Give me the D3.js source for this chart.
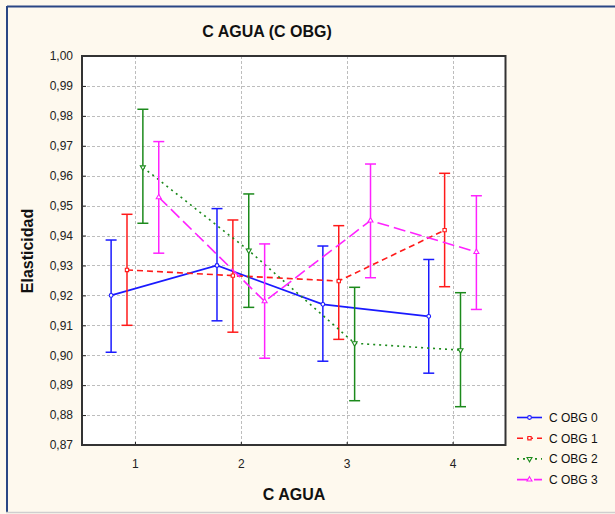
<!DOCTYPE html>
<html><head><meta charset="utf-8">
<script src="https://cdn.jsdelivr.net/npm/d3@7"></script>
<style>
html,body{margin:0;padding:0;background:#FEF9EE;}
svg{display:block;font-family:"Liberation Sans",Arial,sans-serif;}
</style></head>
<body><svg id="c" width="615" height="514"></svg>
<script>
const title = "C AGUA (C OBG)";
const xTitle = "C AGUA";
const yTitle = "Elasticidad";
const categories = [1, 2, 3, 4];
const seriesNames = ["C OBG 0", "C OBG 1", "C OBG 2", "C OBG 3"];
const yTicks = [0.87,0.88,0.89,0.90,0.91,0.92,0.93,0.94,0.95,0.96,0.97,0.98,0.99,1.00];

const mean0 = [0.920, 0.930, 0.917, 0.913];
const upper0 = [0.9385, 0.949, 0.9365, 0.932];
const lower0 = [0.901, 0.9115, 0.898, 0.894];

const mean1 = [0.9285, 0.9266, 0.9248, 0.9418];
const upper1 = [0.9471, 0.9452, 0.9433, 0.9608];
const lower1 = [0.910, 0.9077, 0.9053, 0.9229];

const mean2 = [0.9628, 0.935, 0.904, 0.9017];
const upper2 = [0.9822, 0.9539, 0.9227, 0.9209];
const lower2 = [0.9441, 0.916, 0.8848, 0.8828];

const mean3 = [0.9528, 0.918, 0.945, 0.9345];
const upper3 = [0.9714, 0.9372, 0.9639, 0.9533];
const lower3 = [0.9341, 0.899, 0.9259, 0.9153];

const means = [mean0, mean1, mean2, mean3];
const uppers = [upper0, upper1, upper2, upper3];
const lowers = [lower0, lower1, lower2, lower3];

const colors = ["#1A1AFF", "#FF1A1A", "#1C8A1C", "#FF22FF"];
const dashes = [null, "6,4", "2,4", "12,5"];
const markers = [d3.symbolCircle, d3.symbolSquare, d3.symbolTriangle, d3.symbolTriangle];
const markerRot = [0, 0, 180, 0];

const svg = d3.select("#c");
const L = 82, R = 505.5, T = 56, B = 445;

// background & frame
svg.append("rect").attr("x",0).attr("y",0).attr("width",615).attr("height",514).attr("fill","#FEF9EE");
svg.append("line").attr("x1",7).attr("x2",615).attr("y1",6.5).attr("y2",6.5).attr("stroke","#2A4785").attr("stroke-width",2);
svg.append("line").attr("x1",7).attr("x2",7).attr("y1",6).attr("y2",512).attr("stroke","#2A4785").attr("stroke-width",2);
svg.append("line").attr("x1",6).attr("x2",615).attr("y1",512.5).attr("y2",512.5).attr("stroke","#CFCFCF").attr("stroke-width",1.5);

const x = d3.scaleLinear().domain([0.5, 4.5]).range([L, R]);
const y = d3.scaleLinear().domain([0.87, 1.00]).range([B, T]);
const off = d3.scalePoint().domain(d3.range(seriesNames.length)).range([-0.225, 0.225]);

svg.append("rect").attr("x",L).attr("y",T).attr("width",R-L).attr("height",B-T).attr("fill","#fff");

// grid
const g = svg.append("g");
g.selectAll(".hg").data(yTicks.filter(v=>v>0.871 && v<0.999)).enter().append("line")
  .attr("x1",L).attr("x2",R).attr("y1",d=>Math.round(y(d))+0.5).attr("y2",d=>Math.round(y(d))+0.5)
  .attr("stroke","#BDBDBD").attr("stroke-dasharray","3,2");
g.selectAll(".vg").data(categories).enter().append("line")
  .attr("y1",T).attr("y2",B).attr("x1",d=>Math.round(x(d))+0.5).attr("x2",d=>Math.round(x(d))+0.5)
  .attr("stroke","#BDBDBD").attr("stroke-dasharray","3,2");

// axes
const fmt = d => d3.format(".2f")(d).replace(".", ",");
const ya = svg.append("g").attr("transform",`translate(${L},0)`)
  .call(d3.axisLeft(y).tickValues(yTicks).tickSize(-4).tickPadding(9).tickFormat(fmt));
ya.select(".domain").remove();
ya.selectAll("line").attr("stroke","#222");
ya.selectAll("text").attr("font-size",12).attr("fill","#222").attr("font-family","'Liberation Sans',Arial,sans-serif");

const xa = svg.append("g").attr("transform",`translate(0,${B})`)
  .call(d3.axisBottom(x).tickValues(categories).tickSize(-3).tickPadding(14).tickFormat(d3.format("d")));
xa.select(".domain").remove();
xa.selectAll("line").attr("stroke","#222");
xa.selectAll("text").attr("font-size",12).attr("fill","#222").attr("font-family","'Liberation Sans',Arial,sans-serif");

svg.append("rect").attr("x",L).attr("y",T).attr("width",R-L).attr("height",B-T)
  .attr("fill","none").attr("stroke","#333").attr("stroke-width",2);

// series
seriesNames.forEach((name, s) => {
  const pts = categories.map((c,i)=>({x: c + off(s), m: means[s][i], lo: lowers[s][i], hi: uppers[s][i]}));
  const sg = svg.append("g");
  pts.forEach(p => {
    const px = x(p.x);
    sg.append("line").attr("x1",px).attr("x2",px).attr("y1",y(p.lo)).attr("y2",y(p.hi)).attr("stroke",colors[s]).attr("stroke-width",1.5);
    sg.append("line").attr("x1",px-5.5).attr("x2",px+5.5).attr("y1",y(p.lo)).attr("y2",y(p.lo)).attr("stroke",colors[s]).attr("stroke-width",1.5);
    sg.append("line").attr("x1",px-5.5).attr("x2",px+5.5).attr("y1",y(p.hi)).attr("y2",y(p.hi)).attr("stroke",colors[s]).attr("stroke-width",1.5);
  });
  const line = d3.line().x(p=>x(p.x)).y(p=>y(p.m));
  sg.append("path").attr("d",line(pts)).attr("fill","none").attr("stroke",colors[s]).attr("stroke-width",1.6)
    .attr("stroke-dasharray",dashes[s]);
  const sym = d3.symbol().type(markers[s]).size(11);
  sg.selectAll(".mk").data(pts).enter().append("path").attr("d",sym)
    .attr("transform",p=>`translate(${x(p.x)},${y(p.m)}) rotate(${markerRot[s]})`)
    .attr("fill","#fff").attr("stroke",colors[s]).attr("stroke-width",1.1);
});

// titles
svg.append("text").attr("x",267).attr("y",37).attr("text-anchor","middle").attr("font-size",16).attr("font-weight","bold").attr("fill","#111").text(title);
svg.append("text").attr("x",294).attr("y",500).attr("text-anchor","middle").attr("font-size",16).attr("font-weight","bold").attr("fill","#111").text(xTitle);
svg.append("text").attr("transform","translate(33,251) rotate(-90)").attr("text-anchor","middle").attr("font-size",16).attr("font-weight","bold").attr("fill","#111").text(yTitle);

// legend
const lg = svg.append("g");
seriesNames.forEach((name,s)=>{
  const ly = 417.5 + s*20.7;
  lg.append("line").attr("x1",517).attr("x2",542).attr("y1",ly).attr("y2",ly).attr("stroke",colors[s]).attr("stroke-width",1.6).attr("stroke-dasharray",dashes[s]);
  lg.append("path").attr("d",d3.symbol().type(markers[s]).size(11)).attr("transform",`translate(529.5,${ly}) rotate(${markerRot[s]})`)
    .attr("fill","#FEF9EE").attr("stroke",colors[s]).attr("stroke-width",1.1);
  lg.append("text").attr("x",549).attr("y",ly+4.5).attr("font-size",12).attr("fill","#111").text(name);
});
</script></body></html>
